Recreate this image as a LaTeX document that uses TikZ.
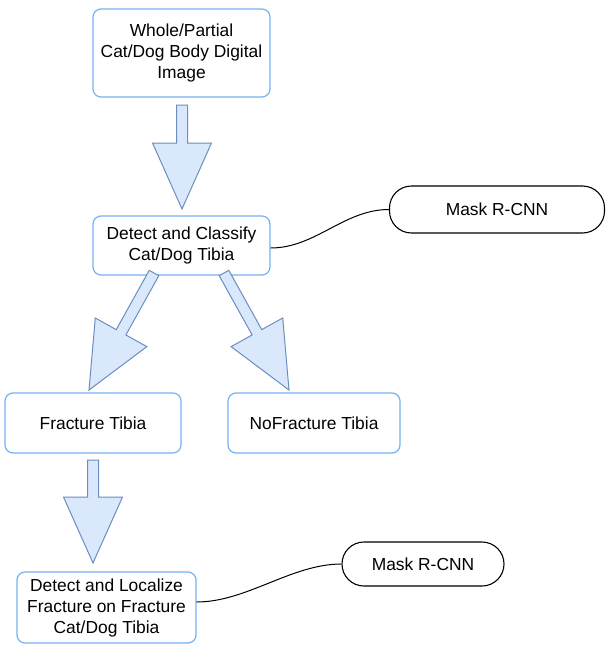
\documentclass[tikz,border=0pt]{standalone}
\usepackage{fontspec}
\setmainfont{Liberation Sans}
\usetikzlibrary{calc}
\definecolor{boxblue}{HTML}{74B2F2}
\definecolor{arrfill}{HTML}{DAE8FC}
\definecolor{arrline}{HTML}{6C8EBF}
\tikzset{
  procbox/.style={draw=boxblue, line width=1.2pt, rounded corners=8pt, fill=white,
    align=center, inner sep=0pt, font=\fontsize{17.4}{21}\selectfont},
  toolbox/.style={draw=black, line width=1.1pt, rounded corners=22pt, fill=white,
    align=center, inner sep=0pt, font=\fontsize{17.4}{21}\selectfont},
  fatarrow/.style={draw=arrline, fill=arrfill, line width=1pt, line join=miter},
  link/.style={draw=black, line width=1pt}
}
\newcommand\fatarrow[2]{%
  \draw[fatarrow] let \p1=($(#2)-(#1)$), \n1={atan2(\y1,\x1)}, \n2={veclen(\x1,\y1)} in
    [shift={(#2)}, rotate=\n1]
    (0,0) -- (-66,29.5) -- (-66,5.5) -- (-\n2,5.5) -- (-\n2,-5.5) -- (-66,-5.5) -- (-66,-29.5) -- cycle;}
\begin{document}
\begin{tikzpicture}[x=1pt,y=-1pt]
\useasboundingbox (0,0) rectangle (606,645);
\node[procbox, minimum width=177pt, minimum height=88pt] (img) at (181.5,53)
  {Whole/Partial\\Cat/Dog Body Digital\\Image};
\node[procbox, minimum width=177pt, minimum height=59pt] (cls) at (181.5,245.5)
  {Detect and Classify\\Cat/Dog Tibia};
\node[procbox, minimum width=176pt, minimum height=60pt] (frac) at (93,423)
  {Fracture Tibia};
\node[procbox, minimum width=172pt, minimum height=60pt] (nofrac) at (314,423)
  {NoFracture Tibia};
\node[procbox, minimum width=179pt, minimum height=71pt] (loc) at (106.5,607.5)
  {Detect and Localize\\Fracture on Fracture\\Cat/Dog Tibia};
\node[toolbox, minimum width=215pt, minimum height=47pt] (m1) at (497,209.5) {Mask R-CNN};
\node[toolbox, minimum width=162pt, minimum height=44pt] (m2) at (423,564) {Mask R-CNN};

\coordinate (a1s) at (182,105);
\coordinate (a1t) at (182,209);
\coordinate (a2s) at (154,273);
\coordinate (a2t) at (89,390);
\coordinate (a3s) at (224,273);
\coordinate (a3t) at (289,390);
\coordinate (a4s) at (93,460);
\coordinate (a4t) at (93,563);
\fatarrow{a1s}{a1t}
\fatarrow{a2s}{a2t}
\fatarrow{a3s}{a3t}
\fatarrow{a4s}{a4t}

\draw[link] ($(cls.east)+(0,2.5)$) .. controls ++(45,0) and ++(-45,0) .. (m1.west);
\draw[link] ($(loc.east)+(0,-5.5)$) .. controls ++(50,0) and ++(-50,0) .. (m2.west);
\end{tikzpicture}
\end{document}
